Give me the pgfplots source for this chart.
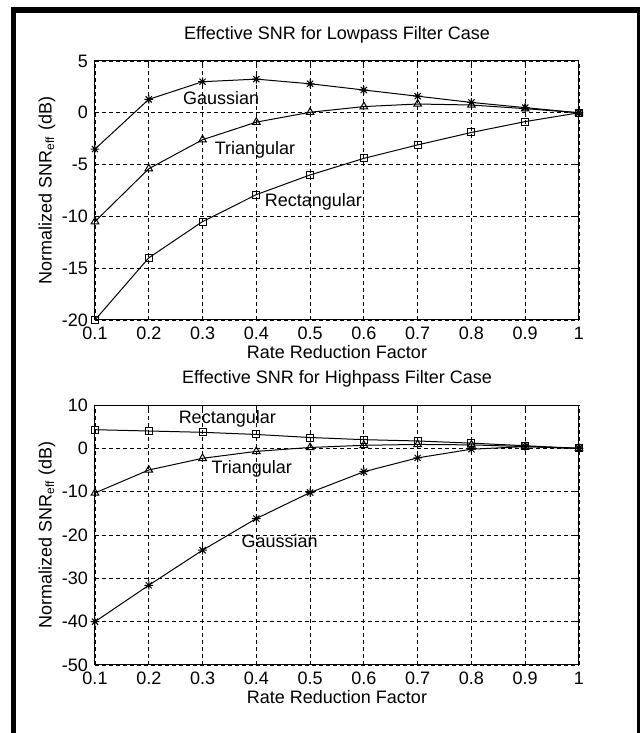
\documentclass[border=0pt]{standalone}
\usepackage{fontspec}
\setmainfont{Liberation Sans}
\usepackage{pgfplots}
\pgfplotsset{compat=1.18}

% 1 px of the reference = 0.5pt
\newcommand{\mfont}{\fontsize{9}{10.5}\selectfont}

% matlab style '*' marker: plus and cross
\pgfdeclareplotmark{mstar}{%
  \pgfpathmoveto{\pgfqpoint{-\pgfplotmarksize}{0pt}}%
  \pgfpathlineto{\pgfqpoint{\pgfplotmarksize}{0pt}}%
  \pgfpathmoveto{\pgfqpoint{0pt}{-\pgfplotmarksize}}%
  \pgfpathlineto{\pgfqpoint{0pt}{\pgfplotmarksize}}%
  \pgfpathmoveto{\pgfqpoint{-0.7\pgfplotmarksize}{-0.7\pgfplotmarksize}}%
  \pgfpathlineto{\pgfqpoint{0.7\pgfplotmarksize}{0.7\pgfplotmarksize}}%
  \pgfpathmoveto{\pgfqpoint{-0.7\pgfplotmarksize}{0.7\pgfplotmarksize}}%
  \pgfpathlineto{\pgfqpoint{0.7\pgfplotmarksize}{-0.7\pgfplotmarksize}}%
  \pgfusepathqstroke}

\pgfplotsset{
  snr/.style={
    scale only axis,
    width=242pt,
    xmin=0.1, xmax=1,
    xtick={0.1,0.2,0.3,0.4,0.5,0.6,0.7,0.8,0.9,1},
    xticklabels={0.1,0.2,0.3,0.4,0.5,0.6,0.7,0.8,0.9,1},
    tick align=inside,
    major tick length=2pt,
    grid=major,
    major grid style={black, line width=0.4pt, dash pattern=on 2pt off 1.5pt},
    axis line style={black, line width=0.5pt},
    tick style={black, line width=0.5pt},
    /pgf/number format/assume math mode=true,
    tick label style={font=\mfont},
    every axis title/.style={at={(axis description cs:0.5,1)}, anchor=center, yshift=13pt, font=\mfont},
    every axis x label/.style={at={(axis description cs:0.5,0)}, anchor=center, yshift=-16pt, font=\mfont},
    every axis y label/.style={at={(axis description cs:-0.099,0.5)}, rotate=90, anchor=center, font=\mfont},
    xlabel={Rate Reduction Factor},
    ylabel={Normalized SNR\textsubscript{eff} (dB)},
    clip=false,
  },
  gau/.style={black, line width=0.5pt, mark=mstar, mark size=2.2pt, mark options={solid}},
  tri/.style={black, line width=0.5pt, mark=triangle, mark size=2.2pt, mark options={solid}},
  rec/.style={black, line width=0.5pt, mark=square, mark size=1.75pt, mark options={solid}},
}

\begin{document}
\begin{tikzpicture}
\useasboundingbox (0,0) rectangle (321pt,366.5pt);
% outer frame
\draw[line width=2.5pt] (6.5pt,0) -- (6.5pt,362pt);
\draw[line width=3pt] (5.25pt,361.5pt) -- (320pt,361.5pt);
\draw[line width=1.75pt] (319.2pt,0) -- (319.2pt,363pt);

% lowpass
\begin{axis}[snr,
  at={(47.5pt,206.5pt)}, anchor=south west,
  height=129.5pt,
  ymin=-20, ymax=5, ytick={-20,-15,-10,-5,0,5},
  title={Effective SNR for Lowpass Filter Case},
]
\addplot[gau] coordinates {(0.1,-3.5) (0.2,1.3) (0.3,3.0) (0.4,3.25) (0.5,2.8) (0.6,2.2) (0.7,1.6) (0.8,1.0) (0.9,0.5) (1.0,0)};
\addplot[tri] coordinates {(0.1,-10.5) (0.2,-5.4) (0.3,-2.6) (0.4,-0.9) (0.5,0.05) (0.6,0.6) (0.7,0.85) (0.8,0.75) (0.9,0.4) (1.0,0)};
\addplot[rec] coordinates {(0.1,-20) (0.2,-14.0) (0.3,-10.5) (0.4,-7.9) (0.5,-6.0) (0.6,-4.4) (0.7,-3.1) (0.8,-1.9) (0.9,-0.85) (1.0,0)};
\node[anchor=west, inner sep=0pt, font=\mfont] at (axis cs:0.263,1.4) {Gaussian};
\node[anchor=west, inner sep=0pt, font=\mfont] at (axis cs:0.322,-3.6) {Triangular};
\node[anchor=west, inner sep=0pt, font=\mfont] at (axis cs:0.415,-8.6) {Rectangular};
\end{axis}

% highpass
\begin{axis}[snr,
  at={(47.5pt,34pt)}, anchor=south west,
  height=130pt,
  ymin=-50, ymax=10, ytick={-50,-40,-30,-20,-10,0,10},
  title={Effective SNR for Highpass Filter Case},
]
\addplot[rec] coordinates {(0.1,4.3) (0.2,4.0) (0.3,3.7) (0.4,3.2) (0.5,2.5) (0.6,2.0) (0.7,1.7) (0.8,1.2) (0.9,0.6) (1.0,0)};
\addplot[tri] coordinates {(0.1,-10.3) (0.2,-5.0) (0.3,-2.3) (0.4,-0.7) (0.5,0.2) (0.6,0.7) (0.7,0.9) (0.8,0.8) (0.9,0.4) (1.0,0)};
\addplot[gau] coordinates {(0.1,-40) (0.2,-31.6) (0.3,-23.5) (0.4,-16.2) (0.5,-10.2) (0.6,-5.4) (0.7,-2.2) (0.8,-0.2) (0.9,0.4) (1.0,0)};
\node[anchor=west, inner sep=0pt, font=\mfont] at (axis cs:0.255,6.8) {Rectangular};
\node[anchor=west, inner sep=0pt, font=\mfont] at (axis cs:0.316,-4.8) {Triangular};
\node[anchor=west, inner sep=0pt, font=\mfont] at (axis cs:0.372,-21.4) {Gaussian};
\end{axis}
\end{tikzpicture}
\end{document}
